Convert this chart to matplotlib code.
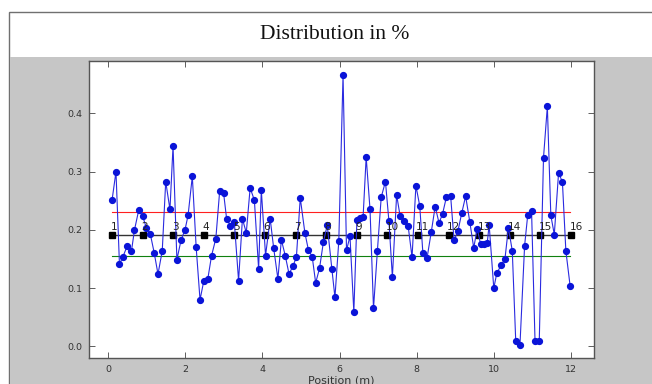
import matplotlib
matplotlib.use("Agg")

import matplotlib.pyplot as plt
from matplotlib.patches import Rectangle

# position (m) and distribution value of each measured point
pos = [
    0.10, 0.20, 0.29, 0.38, 0.49, 0.60, 0.68, 0.79, 0.89, 0.99,
    1.09, 1.19, 1.29, 1.40, 1.49, 1.60, 1.68, 1.78, 1.89, 1.99,
    2.07, 2.18, 2.28, 2.38, 2.48, 2.58, 2.68, 2.79, 2.89, 2.99,
    3.07, 3.17, 3.27, 3.38, 3.48, 3.58, 3.68, 3.79, 3.90, 3.97,
    4.08, 4.20, 4.29, 4.40, 4.49, 4.59, 4.69, 4.79, 4.88, 4.98,
    5.10, 5.19, 5.29, 5.38, 5.48, 5.58, 5.68, 5.80, 5.88, 5.98,
    6.09, 6.18, 6.27, 6.37, 6.45, 6.53, 6.61, 6.69, 6.79, 6.88,
    6.98, 7.08, 7.19, 7.28, 7.37, 7.48, 7.57, 7.67, 7.78, 7.88,
    7.98, 8.08, 8.16, 8.27, 8.38, 8.48, 8.58, 8.67, 8.77, 8.88,
    8.97, 9.07, 9.17, 9.27, 9.38, 9.48, 9.57, 9.66, 9.74, 9.83,
    9.88, 10.00, 10.08, 10.19, 10.29, 10.38, 10.48, 10.57, 10.68, 10.80,
    10.88, 10.98, 11.07, 11.18, 11.29, 11.39, 11.48, 11.57, 11.68, 11.78,
    11.87, 11.98,
]
dist = [
    0.252, 0.300, 0.141, 0.154, 0.172, 0.163, 0.200, 0.234, 0.224, 0.203,
    0.193, 0.161, 0.124, 0.164, 0.283, 0.235, 0.344, 0.149, 0.183, 0.200,
    0.225, 0.292, 0.170, 0.080, 0.113, 0.115, 0.156, 0.185, 0.267, 0.264,
    0.219, 0.207, 0.213, 0.113, 0.219, 0.195, 0.272, 0.251, 0.133, 0.268,
    0.156, 0.219, 0.169, 0.116, 0.183, 0.156, 0.124, 0.138, 0.153, 0.255,
    0.195, 0.166, 0.154, 0.109, 0.134, 0.179, 0.208, 0.133, 0.084, 0.181,
    0.466, 0.165, 0.189, 0.059, 0.217, 0.220, 0.222, 0.325, 0.235, 0.065,
    0.163, 0.256, 0.283, 0.215, 0.119, 0.260, 0.224, 0.216, 0.206, 0.153,
    0.276, 0.241, 0.161, 0.152, 0.197, 0.240, 0.212, 0.227, 0.256, 0.259,
    0.182, 0.198, 0.229, 0.258, 0.213, 0.169, 0.202, 0.175, 0.176, 0.177,
    0.209, 0.100, 0.126, 0.139, 0.150, 0.204, 0.164, 0.009, 0.003, 0.173,
    0.225, 0.233, 0.009, 0.009, 0.324, 0.412, 0.225, 0.192, 0.297, 0.283,
    0.164, 0.104,
]

# section marks along the line
sec_pos = [0.10, 0.89, 1.69, 2.48, 3.27, 4.07, 4.86, 5.65,
           6.45, 7.24, 8.03, 8.83, 9.62, 10.41, 11.21, 12.00]
sec_labels = [str(i) for i in range(1, 17)]

mean_val = 0.192
upper_val = 0.231
lower_val = 0.155

fig = plt.figure(figsize=(6.52, 3.84), dpi=100, facecolor="white")

# frame + title band + grey background
fig.patches.append(Rectangle((9 / 652, -0.02), 1.0, 0.96875 + 0.02,
                             transform=fig.transFigure, facecolor="white",
                             edgecolor="#707070", linewidth=1.0, zorder=-2))
fig.patches.append(Rectangle((9.5 / 652, -0.02), 1.0, 0.8516 + 0.02,
                             transform=fig.transFigure, facecolor="#c6c6c6",
                             edgecolor="none", zorder=-1))
fig.text(0.514, 0.911, "Distribution in %", ha="center", va="center",
         fontsize=15.5, family="Liberation Serif", color="#111111")

ax = fig.add_axes([89 / 652, 1 - 358 / 384, (594 - 89) / 652, (358 - 61) / 384])
ax.set_zorder(1)
ax.set_facecolor("white")

ax.plot([pos[0], pos[-1]], [upper_val, upper_val], color="#ff2020", linewidth=0.8)
ax.plot([pos[0], pos[-1]], [lower_val, lower_val], color="#108010", linewidth=0.8)
ax.plot(sec_pos, [mean_val] * len(sec_pos), color="#333333", linewidth=1.0,
        marker="s", markersize=5, markerfacecolor="black", markeredgecolor="black")
for p, lab in zip(sec_pos, sec_labels):
    ax.text(p - 0.04, mean_val + 0.005, lab, fontsize=7.5, color="#222222",
            ha="left", va="bottom")

ax.plot(pos, dist, color="#2a2ae0", linewidth=0.8, marker="o", markersize=4.2,
        markerfacecolor="#0a14d8", markeredgecolor="#0a14d8")

ax.set_xlim(-0.5, 12.6)
ax.set_ylim(-0.02, 0.49)
ax.set_xticks([0, 2, 4, 6, 8, 10, 12])
ax.set_yticks([0.0, 0.1, 0.2, 0.3, 0.4])
ax.tick_params(direction="in", top=True, right=True, length=4, width=0.6,
               labelsize=6.8, labelcolor="#333333", color="#444444", pad=5)
for s in ax.spines.values():
    s.set_color("#555555")
    s.set_linewidth(1.0)
ax.set_xlabel("Position (m)", fontsize=8, color="#333333", labelpad=1)

fig.savefig("out.png", dpi=100, facecolor="white")
